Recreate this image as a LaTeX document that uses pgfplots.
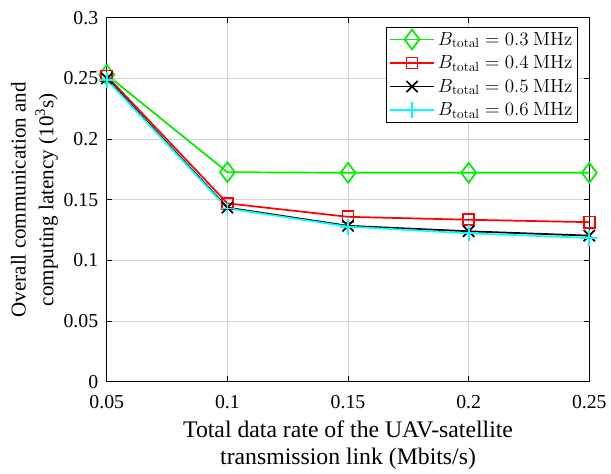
\documentclass[border=0pt]{standalone}
\usepackage{pgfplots}
\pgfplotsset{compat=1.18}
\usepackage[no-math]{fontspec}
\setmainfont{Liberation Serif}
\definecolor{mygreen}{RGB}{0,240,0}
\definecolor{mycyan}{RGB}{0,255,255}
\begin{document}
\begin{tikzpicture}
\begin{axis}[
  width=366pt, height=276pt, scale only axis,
  xmin=0.05, xmax=0.25, ymin=0, ymax=0.3,
  /pgf/number format/assume math mode=true,
  xtick={0.05,0.1,0.15,0.2,0.25},
  xticklabels={0.05,0.1,0.15,0.2,0.25},
  ytick={0,0.05,0.1,0.15,0.2,0.25,0.3},
  yticklabels={0,0.05,0.1,0.15,0.2,0.25,0.3},
  tick align=inside, tick pos=both,
  major tick length=4pt,
  grid=major, grid style={gray!35, line width=0.6pt},
  axis line style={line width=0.6pt},
  tick style={black, line width=0.6pt},
  ticklabel style={font=\fontsize{15}{17}\selectfont},
  yticklabel style={xshift=-3pt},
  xticklabel style={yshift=-7pt},
  xlabel={Total data rate of the UAV-satellite\\transmission link (Mbits/s)},
  ylabel={Overall communication and\\computing latency (10\textsuperscript{3}s)},
  xlabel style={font=\fontsize{18}{20}\selectfont, align=center, at={(axis description cs:0.5,-0.175)}, anchor=center},
  ylabel style={font=\fontsize{16}{21}\selectfont, align=center, at={(axis description cs:-0.15,0.5)}, anchor=center},
  legend style={font=\fontsize{14}{16}\selectfont, draw=black, line width=0.6pt, inner sep=1.5pt, row sep=2.5pt,
    at={([xshift=-9pt,yshift=-7pt]axis description cs:1,1)}, anchor=north east},
  legend cell align=left,
  legend image code/.code={\draw[mark repeat=2,mark phase=2] plot coordinates {(0pt,0pt) (17pt,0pt) (34pt,0pt)};},
  every axis plot/.append style={line width=1.3pt},
]
\addplot[color=mygreen, mark=diamond, mark size=7.5pt, mark options={solid, line width=1.3pt}] coordinates {(0.05,0.253) (0.1,0.1727) (0.15,0.1722) (0.2,0.1722) (0.25,0.1722)};
\addlegendentry{$B_{\mathrm{total}}=0.3\ \mathrm{MHz}$}
\addplot[color=red, mark=square, mark size=4.2pt, mark options={solid, line width=1.3pt}] coordinates {(0.05,0.252) (0.1,0.147) (0.15,0.1359) (0.2,0.1335) (0.25,0.1315)};
\addlegendentry{$B_{\mathrm{total}}=0.4\ \mathrm{MHz}$}
\addplot[color=black, mark=x, mark size=6pt, mark options={solid, line width=1.3pt}] coordinates {(0.05,0.250) (0.1,0.1435) (0.15,0.1285) (0.2,0.124) (0.25,0.1204)};
\addlegendentry{$B_{\mathrm{total}}=0.5\ \mathrm{MHz}$}
\addplot[color=mycyan, mark=+, mark size=6pt, mark options={solid, line width=1.3pt}] coordinates {(0.05,0.249) (0.1,0.1428) (0.15,0.1278) (0.2,0.1223) (0.25,0.1185)};
\addlegendentry{$B_{\mathrm{total}}=0.6\ \mathrm{MHz}$}
\end{axis}
\path ([yshift=13.5pt]current axis.north west) ([xshift=-81pt]current axis.south west);
\end{tikzpicture}
\end{document}
